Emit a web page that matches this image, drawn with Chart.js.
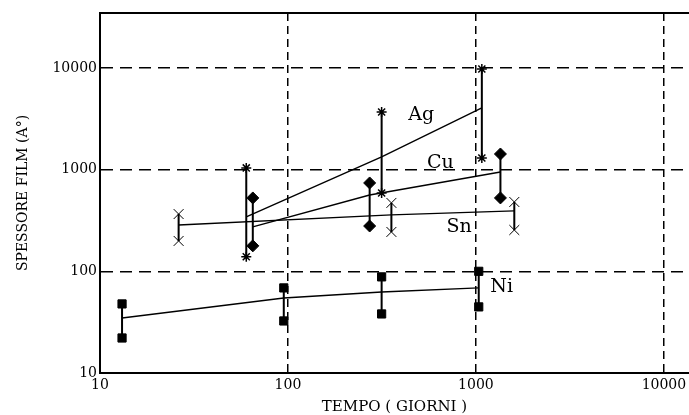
<!DOCTYPE html>
<html>
<head>
<meta charset="utf-8">
<script src="https://cdn.jsdelivr.net/npm/chart.js@4.4.0/dist/chart.umd.min.js"></script>
<style>
  html, body { margin: 0; padding: 0; background: #fff; overflow: hidden; }
  #wrap { width: 689px; height: 415px; position: relative; }
</style>
</head>
<body>
<div id="wrap"><canvas id="film-chart"></canvas></div>
<script>
// Spessore film (A°) vs tempo (giorni), scala log-log

const xTicks = [10, 100, 1000, 10000];
const yTicks = [10, 100, 1000, 10000];

// Ni
const niDays = [13.1, 95, 315, 1035];
const niLow  = [22.1, 32.5, 38.1, 44.7];
const niHigh = [47.8, 68.7, 88.2, 100];
const niMean = [34.8, 54.7, 62.7, 68.7];

// Ag
const agDays = [60, 315, 1075];
const agLow  = [139, 590, 1303];
const agHigh = [1040, 3690, 9780];
const agMean = [343, 1333, 4045];

// Cu
const cuDays = [65, 272, 1350];
const cuLow  = [178, 279, 527];
const cuHigh = [527, 740, 1426];
const cuMean = [274, 564, 949];

// Sn
const snDays = [26.2, 355, 1600];
const snLow  = [199, 244, 255];
const snHigh = [366, 471, 481];
const snMean = [286, 359, 393];

// series labels on the plot
const labelNames = ['Ag', 'Cu', 'Sn', 'Ni'];
const labelDays  = [512, 646, 813, 1370];
const labelFilm  = [3450, 1164, 274, 70];

// ---------- helpers ----------
function barPoints(days, low, high) {
  const pts = [];
  days.forEach((d, i) => {
    pts.push({ x: d, y: low[i] }, { x: d, y: high[i] }, { x: d, y: null });
  });
  return pts;
}

function meanPoints(days, mean) {
  return days.map((d, i) => ({ x: d, y: mean[i] }));
}

function barSet(days, low, high, style, radius, bw) {
  return {
    data: barPoints(days, low, high),
    borderColor: '#000',
    backgroundColor: '#000',
    borderWidth: 2,
    pointStyle: style,
    pointRadius: radius,
    pointBorderWidth: bw,
    pointBorderColor: '#000',
    pointBackgroundColor: '#000',
    spanGaps: false
  };
}

function lineSet(days, mean) {
  return {
    data: meanPoints(days, mean),
    borderColor: '#000',
    borderWidth: 1.4,
    pointRadius: 0
  };
}

const labelPlugin = {
  id: 'seriesLabels',
  afterDatasetsDraw(chart) {
    const { ctx, scales: { x, y } } = chart;
    ctx.save();
    ctx.font = '19px "DejaVu Serif"';
    ctx.fillStyle = '#000';
    ctx.textAlign = 'center';
    ctx.textBaseline = 'middle';
    labelNames.forEach((t, i) => {
      ctx.fillText(t, x.getPixelForValue(labelDays[i]), y.getPixelForValue(labelFilm[i]));
    });
    ctx.restore();
  }
};

Chart.defaults.font.family = '"DejaVu Serif", serif';
Chart.defaults.color = '#000';

const X_MIN = 10, X_MAX = 13600;
const Y_MIN = 10, Y_MAX = 34750;

new Chart(document.getElementById('film-chart'), {
  type: 'line',
  data: {
    datasets: [
      lineSet(niDays, niMean),
      lineSet(agDays, agMean),
      lineSet(cuDays, cuMean),
      lineSet(snDays, snMean),
      barSet(niDays, niLow, niHigh, 'rect', 5.8, 1),
      barSet(agDays, agLow, agHigh, 'star', 5, 1.5),
      barSet(cuDays, cuLow, cuHigh, 'rectRot', 6, 1),
      barSet(snDays, snLow, snHigh, 'crossRot', 7, 1)
    ]
  },
  options: {
    responsive: true,
    maintainAspectRatio: false,
    devicePixelRatio: 1,
    animation: false,
    layout: { autoPadding: false, padding: { top: 13, right: -8, left: 0, bottom: 0 } },
    plugins: { legend: { display: false }, tooltip: { enabled: false } },
    scales: {
      x: {
        type: 'logarithmic',
        position: 'bottom',
        min: X_MIN,
        max: X_MAX,
        afterBuildTicks: (s) => { s.ticks = xTicks.map(v => ({ value: v })); },
        afterFit: (s) => { s.height = 42; s.paddingLeft = 0; s.paddingRight = 0; },
        ticks: {
          font: { size: 14 },
          padding: 4,
          maxRotation: 0,
          callback: (v) => String(v)
        },
        grid: { color: '#000', lineWidth: 1.5, drawTicks: false },
        border: { display: true, color: '#000', width: 2, dash: [8, 5] },
        title: {
          display: true,
          text: 'TEMPO ( GIORNI )',
          font: { size: 15, lineHeight: 1 },
          padding: { top: 0, bottom: 0 }
        }
      },
      xTop: {
        type: 'logarithmic',
        position: 'top',
        min: X_MIN,
        max: X_MAX,
        afterFit: (s) => { s.height = 0; s.paddingLeft = 0; s.paddingRight = 0; },
        ticks: { display: false },
        grid: { display: false, drawTicks: false },
        border: { display: true, color: '#000', width: 2 }
      },
      y: {
        type: 'logarithmic',
        min: Y_MIN,
        max: Y_MAX,
        afterBuildTicks: (s) => { s.ticks = yTicks.map(v => ({ value: v })); },
        afterFit: (s) => { s.width = 100; s.paddingTop = 0; s.paddingBottom = 0; },
        ticks: {
          font: { size: 14 },
          padding: 3,
          callback: (v) => String(v)
        },
        grid: { color: '#000', lineWidth: 1.5, drawTicks: false },
        border: { display: true, color: '#000', width: 2, dash: [12, 7] },
        title: {
          display: true,
          text: 'SPESSORE FILM (A°)',
          font: { size: 14, lineHeight: 1 },
          padding: { top: 16, bottom: 0 }
        }
      }
    }
  },
  plugins: [labelPlugin]
});
</script>
</body>
</html>
